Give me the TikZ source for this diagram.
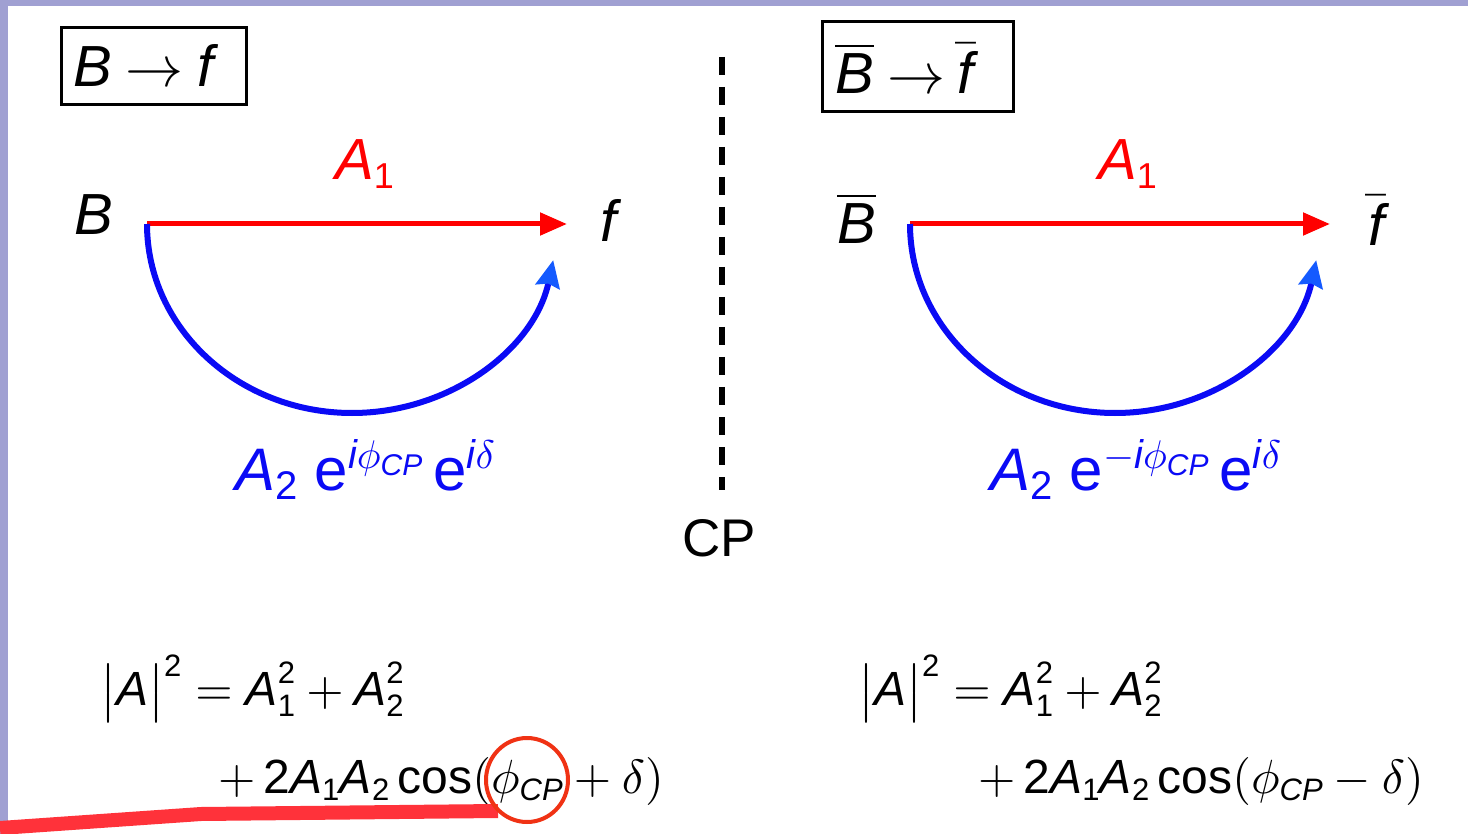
\documentclass[tikz,border=0pt]{standalone}
\usepackage{amsmath}
\usepackage{fontspec}
\setmainfont{Liberation Sans}
\DeclareFontShape{OML}{cmm}{m}{it}{<->cmmi10}{}
\DeclareFontShape{OMS}{cmsy}{m}{n}{<->cmsy10}{}
\DeclareFontShape{OMX}{cmex}{m}{n}{<->cmex10}{}
\DeclareFontShape{OT1}{cmr}{m}{n}{<->cmr10}{}
\DeclareMathSizes{48}{48}{31}{24}
\DeclareMathSizes{58}{58}{36}{28}
\DeclareMathSizes{60}{60}{40}{30}
\usetikzlibrary{arrows.meta}
\newcommand\mi[1]{\textit{#1}}
\definecolor{lav}{RGB}{160,160,210}
\definecolor{bluec}{RGB}{10,10,245}
\definecolor{bluetip}{RGB}{20,90,255}
\definecolor{circred}{RGB}{240,50,20}
\definecolor{hl}{RGB}{255,50,58}
\begin{document}
\begin{tikzpicture}[x=1pt,y=-1pt,
  txt/.style={inner sep=0pt, anchor=base west},
  boxst/.style={draw, line width=3pt, inner sep=0pt},
  redarr/.style={draw=red, line width=5pt, -{Triangle[length=27pt,width=22pt]}},
  bluearr/.style={draw=bluec, line width=6pt, -{Stealth[length=27pt,width=24pt,inset=3pt,color=bluetip]}},
  big/.style={font=\fontsize{58}{64}\selectfont},
  eqf/.style={font=\fontsize{48}{56}\selectfont},
  lbl/.style={font=\fontsize{60}{66}\selectfont, text=bluec},
  cpline/.style={line width=5.5pt, dash pattern=on 18pt off 12pt}
]
\useasboundingbox (0,0) rectangle (1468,834);
\fill[white] (0,0) rectangle (1468,834);
\fill[lav] (0,0) rectangle (1468,6);
\fill[lav] (0,0) rectangle (8,834);

% boxes
\node[boxst, minimum width=185pt, minimum height=77pt] (box1) at (153.5,66.5) {};
\node[txt, big] (t1) at (73,87) {\mi{B}\hspace{14pt}$\rightarrow$\hspace{14pt}\mi{f}};
\node[boxst, minimum width=191pt, minimum height=90pt] (box2) at (917.5,67) {};
\node[txt, big] (t2) at (835,94) {$\overline{\mi{B}}$\hspace{14pt}$\rightarrow$\hspace{12pt}$\bar{\mi{f}}$};

% divider
\coordinate (cptop) at (722,57);
\coordinate (cpbot) at (722,490);
\draw[cpline] (cptop) -- (cpbot);
\node[txt, font=\fontsize{53}{60}\selectfont] (cp) at (682,556) {CP};

% left diagram
\node[txt, big] (B) at (74,235) {\mi{B}};
\node[txt, big] (f) at (600,242) {\mi{f}};
\coordinate (s1) at (147,224);
\coordinate (e1) at (567,224);
\draw[redarr] (s1) -- (e1);
\node[txt, big, text=red] (A1l) at (335,180) {$\mi{A}_{\text{1}}$};
\draw[bluearr] (s1) arc[start angle=180, end angle=11, x radius=205, y radius=189];
\node[txt, lbl] (lab1) at (235,490) {$\mi{A}_{\text{2}}\;\text{e}^{\mi{i}\phi_{\mi{CP}}}\,\text{e}^{\mi{i}\delta}$};

% right diagram
\node[txt, big] (Bb) at (837,244) {$\overline{\mi{B}}$};
\node[txt, big] (fb) at (1368,246) {$\bar{\mi{f}}$};
\coordinate (s2) at (910,224);
\coordinate (e2) at (1330,224);
\draw[redarr] (s2) -- (e2);
\node[txt, big, text=red] (A1r) at (1098,180) {$\mi{A}_{\text{1}}$};
\draw[bluearr] (s2) arc[start angle=180, end angle=11, x radius=205, y radius=189];
\node[txt, lbl] (lab2) at (990,490) {$\mi{A}_{\text{2}}\;\text{e}^{-\mi{i}\phi_{\mi{CP}}}\,\text{e}^{\mi{i}\delta}$};

% equations
\node[txt, eqf] (eq1a) at (100,705) {$\bigl|\mi{A}\bigr|^{\text{2}}=\mi{A}_{\text{1}}^{\text{2}}+\mi{A}_{\text{2}}^{\text{2}}$};
\node[txt, eqf] (eq1b) at (218,793) {$+\,\text{2}\mi{A}_{\text{1}}\mi{A}_{\text{2}}\,\text{cos}(\phi_{\mi{CP}}+\delta)$};
\node[txt, eqf] (eq2a) at (858,705) {$\bigl|\mi{A}\bigr|^{\text{2}}=\mi{A}_{\text{1}}^{\text{2}}+\mi{A}_{\text{2}}^{\text{2}}$};
\node[txt, eqf] (eq2b) at (978,793) {$+\,\text{2}\mi{A}_{\text{1}}\mi{A}_{\text{2}}\,\text{cos}(\phi_{\mi{CP}}-\delta)$};

% highlight marks
\draw[hl, line width=14pt] (0,828) -- (201,814) -- (498,811);
\draw[circred, line width=4pt] (527,780) ellipse [x radius=41, y radius=42];
\end{tikzpicture}
\end{document}
